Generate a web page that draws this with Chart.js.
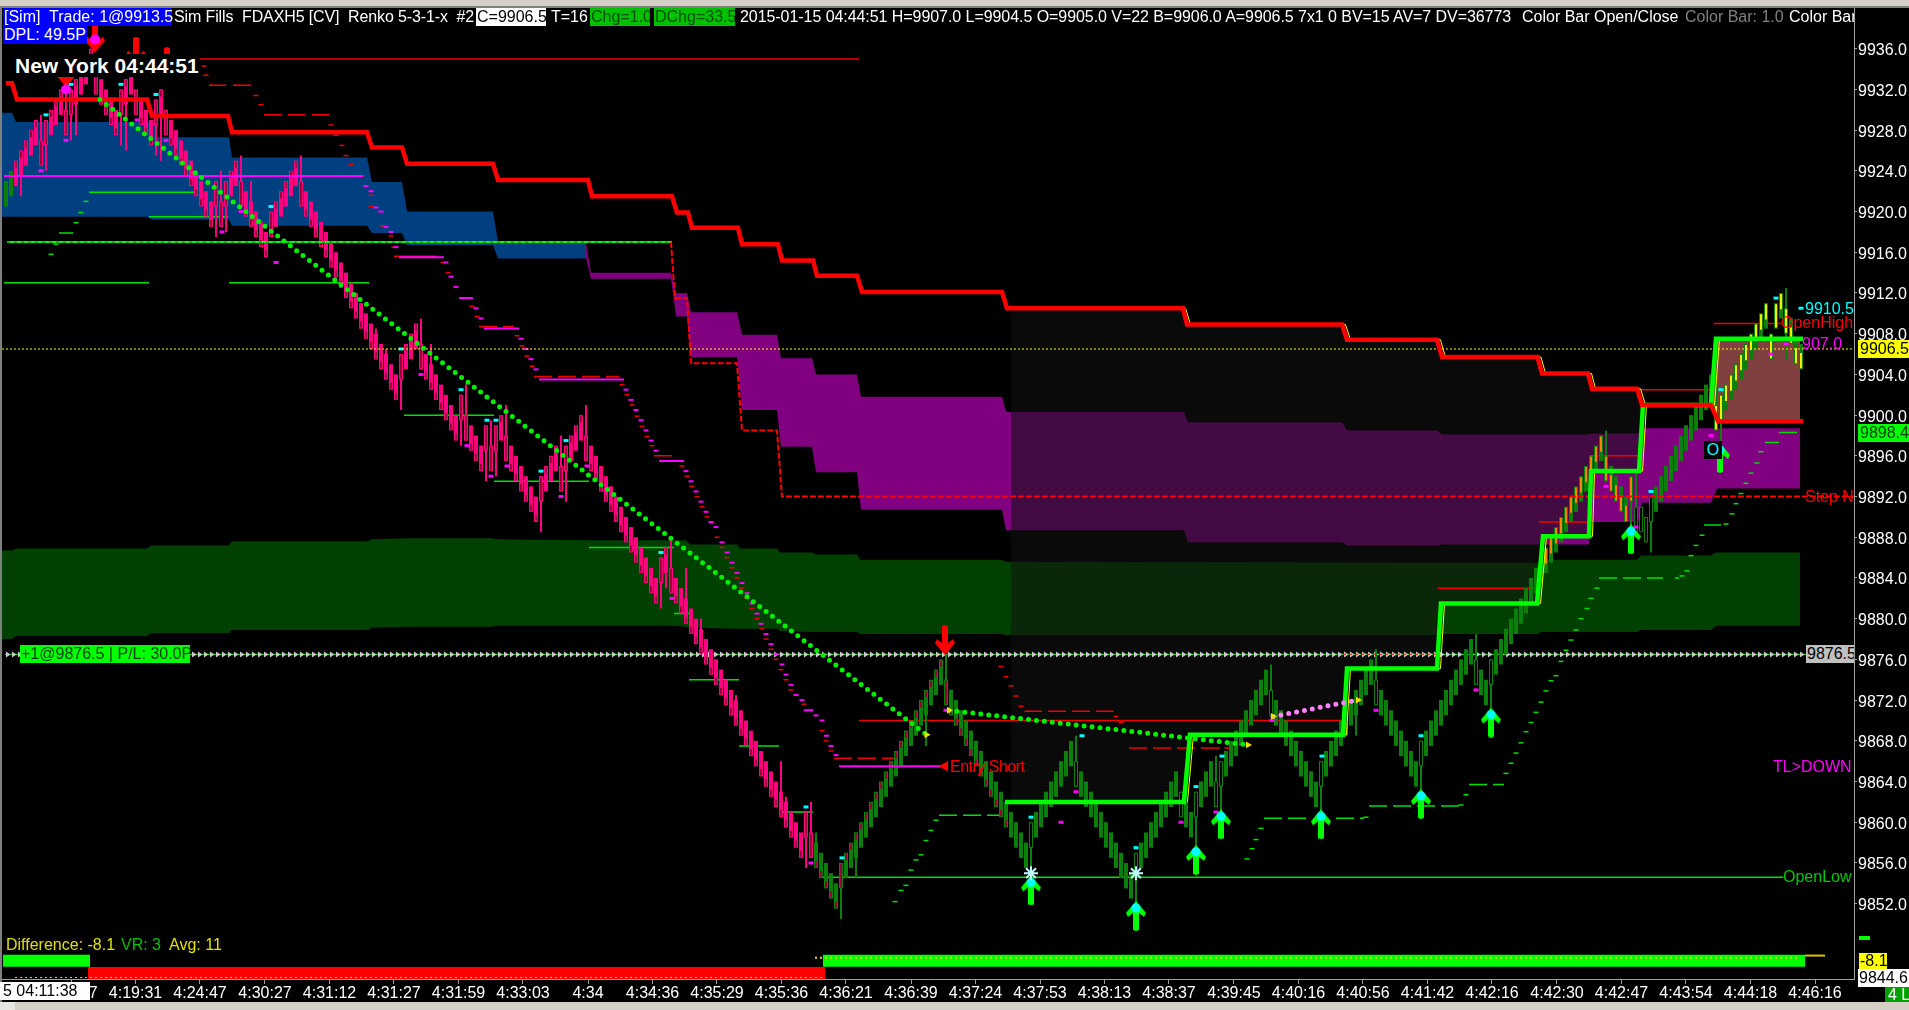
<!DOCTYPE html>
<html>
<head>
<meta charset="utf-8">
<title>FDAXH5 Renko</title>
<style>
  html, body { margin: 0; padding: 0; background: #000; overflow: hidden; }
  #wrap { position: relative; width: 1909px; height: 1010px; }
  canvas#chart { position: absolute; left: 0; top: 0; }
  .t { position: absolute; font: 16px "Liberation Sans", Arial, sans-serif; line-height: 18px; height: 18px; white-space: pre; color: #fff; }
  .b { position: absolute; }
</style>
</head>
<body>
<div id="wrap">
  <canvas id="chart" width="1909" height="1010"></canvas>

  <div class="b" style="left:0;top:0;width:1909px;height:6px;background:#d4d0c8"></div>
  <div class="b" style="left:0;top:6px;width:1909px;height:2px;background:#808080"></div>
  <div class="b" style="left:0;top:8px;width:2px;height:994px;background:#808080"></div>
  <div class="b" style="left:0;top:1002px;width:1909px;height:8px;background:#d4d0c8"></div>
  <div class="b" style="left:0;top:1002px;width:15px;height:8px;background:#e8e6e0"></div>

  <div class="t" style="left:3px;top:8px;width:169px;background:#0000ff;padding-left:1px;box-sizing:border-box">[Sim]  Trade: 1@9913.5</div>
  <div class="t" style="left:174px;top:8px;letter-spacing:-0.12px">Sim Fills  FDAXH5 [CV]  Renko 5-3-1-x  #2</div>
  <div class="t" style="left:476px;top:8px;width:70px;background:#fff;color:#000;padding-left:1px;box-sizing:border-box;overflow:hidden">C=9906.5</div>
  <div class="t" style="left:551px;top:8px">T=16</div>
  <div class="t" style="left:590px;top:8px;width:60px;background:#00c000;color:#005000;padding-left:1px;box-sizing:border-box;overflow:hidden">Chg=1.0</div>
  <div class="t" style="left:654px;top:8px;width:81px;background:#00c000;color:#005000;padding-left:1px;box-sizing:border-box;overflow:hidden">DChg=33.5</div>
  <div class="t" style="left:740px;top:8px;letter-spacing:-0.06px">2015-01-15 04:44:51 H=9907.0 L=9904.5 O=9905.0 V=22 B=9906.0 A=9906.5 7x1 0 BV=15 AV=7 DV=36773</div>
  <div class="t" style="left:1522px;top:8px">Color Bar Open/Close</div>
  <div class="t" style="left:1685px;top:8px;color:#808080">Color Bar: 1.0</div>
  <div class="t" style="left:1789px;top:8px;width:65px;overflow:hidden">Color Bar</div>
  <div class="t" style="left:3px;top:26px;width:84px;background:#0000ff;padding-left:1px;box-sizing:border-box">DPL: 49.5P</div>

  <div class="t" style="left:12px;top:54px;width:188px;height:23px;line-height:23px;background:#000;font-weight:bold;font-size:21px;padding-left:3px;box-sizing:border-box;overflow:hidden">New York 04:44:51</div>

  <div class="t" style="left:1805px;top:300px;color:#00ffff">9910.5</div>
  <div class="t" style="left:1781px;top:314px;width:70px;text-align:right;color:#ff0000">OpenHigh</div>
  <div class="t" style="left:1802px;top:335px;color:#ff00ff">907.0</div>
  <div class="t" style="left:1858px;top:340px;width:51px;background:#ffff00;color:#000;padding-left:2px;box-sizing:border-box;overflow:hidden">9906.5</div>
  <div class="t" style="left:1858px;top:424px;width:51px;background:#00ff00;color:#004000;padding-left:2px;box-sizing:border-box;overflow:hidden">9898.4</div>
  <div class="t" style="left:1805px;top:488px;color:#ff0000">Step N</div>
  <div class="t" style="left:20px;top:645px;width:170px;background:#00ff00;color:#004000;padding-left:1px;box-sizing:border-box">+1@9876.5 | P/L: 30.0P</div>
  <div class="t" style="left:1806px;top:645px;width:48px;background:#c0c0c0;color:#000;padding-left:1px;box-sizing:border-box;overflow:hidden">9876.5</div>
  <div class="t" style="left:950px;top:758px;color:#ff0000;letter-spacing:-0.5px">Entry Short</div>
  <div class="t" style="left:1773px;top:758px;color:#ff00ff">TL&gt;DOWN</div>
  <div class="t" style="left:1783px;top:868px;color:#00c800">OpenLow</div>
  <div class="t" style="left:1704px;top:441px;width:18px;background:#000;color:#00ffff;text-align:center">O</div>

  <div class="t" style="left:6px;top:936px;color:#e0e000">Difference: -8.1</div>
  <div class="t" style="left:121px;top:936px;color:#00c000">VR: 3</div>
  <div class="t" style="left:169px;top:936px;color:#e0e000">Avg: 11</div>

  <div class="b" style="left:1859px;top:936px;width:11px;height:4px;background:#00ff00"></div>
  <div class="t" style="left:1859px;top:953px;width:28px;height:16px;line-height:16px;background:#ffff00;color:#000;padding-left:1px;box-sizing:border-box">-8.1</div>
  <div class="t" style="left:1858px;top:969px;width:51px;background:#fff;color:#000;padding-left:1px;box-sizing:border-box;overflow:hidden">9844.6</div>
  <div class="t" style="left:0;top:982px;width:90px;background:#fff;color:#000;padding-left:3px;box-sizing:border-box;overflow:hidden">5 04:11:38</div>
  <div class="t" style="left:1885px;top:987px;width:24px;height:15px;line-height:15px;background:#00a000;color:#fff;padding-left:3px;box-sizing:border-box;overflow:hidden">4 L</div>
</div>

<script src="https://cdn.jsdelivr.net/npm/chart.js@4"></script>
<script>
'use strict';

/* ── AXES ── */
const xLabels = ['4:14:07','4:19:31','4:24:47','4:30:27','4:31:12','4:31:27','4:31:59','4:33:03','4:34','4:34:36','4:35:29','4:35:36','4:36:21','4:36:39','4:37:24','4:37:53','4:38:13','4:38:37','4:39:45','4:40:16','4:40:56','4:41:42','4:42:16','4:42:30','4:42:47','4:43:54','4:44:18','4:46:16'];
const xTickBars = [13,25.9,38.8,51.8,64.7,77.6,90.5,103.4,116.4,129.3,142.2,155.1,168,181,193.9,206.8,219.7,232.6,245.6,258.5,271.4,284.3,297.2,310.2,323.1,336,348.9,361.8];
const yTicksShown = [9852,9856,9860,9864,9868,9872,9876,9880,9884,9888,9892,9896,9900,9904,9908,9912,9916,9920,9924,9928,9932,9936];

/* ── RENKO CLOSES, one per bar ── */
const closes = [
  9923,9924,9925,9926,9927,9928,9929,9924.5,9929,9930,
  9931,9932,9927.5,9932,9933,9934,9935,9936,9931.5,9930.5,
  9929.5,9928.5,9927.5,9932,9933,9934,9929.5,9928.5,9927.5,9926.5,
  9931,9932,9927.5,9926.5,9925.5,9924.5,9923.5,9922.5,9921.5,9920.5,
  9919.5,9918.5,9923,9918.5,9923,9924,9925,9920.5,9919.5,9918.5,
  9917.5,9916.5,9915.5,9920,9921,9922,9923,9924,9925,9920.5,
  9919.5,9918.5,9917.5,9916.5,9915.5,9914.5,9913.5,9912.5,9911.5,9910.5,
  9909.5,9908.5,9907.5,9906.5,9905.5,9904.5,9903.5,9902.5,9901.5,9906,
  9907,9908,9909,9904.5,9903.5,9902.5,9901.5,9900.5,9899.5,9898.5,
  9897.5,9902,9897.5,9896.5,9895.5,9894.5,9899,9894.5,9899,9900,
  9895.5,9894.5,9893.5,9892.5,9891.5,9890.5,9889.5,9894,9895,9896,
  9897,9892.5,9897,9898,9899,9900,9895.5,9894.5,9893.5,9892.5,
  9891.5,9890.5,9889.5,9888.5,9887.5,9886.5,9885.5,9884.5,9883.5,9882.5,
  9881.5,9886,9887,9882.5,9881.5,9880.5,9879.5,9878.5,9877.5,9876.5,
  9875.5,9874.5,9873.5,9872.5,9871.5,9870.5,9869.5,9868.5,9867.5,9866.5,
  9865.5,9864.5,9863.5,9862.5,9861.5,9860.5,9859.5,9858.5,9857.5,9856.5,
  9861,9856.5,9855.5,9854.5,9853.5,9852.5,9851.5,9856,9857,9858,
  9859,9860,9861,9862,9863,9864,9865,9866,9867,9868,
  9869,9870,9871,9872,9873,9874,9875,9876,9871.5,9870.5,
  9869.5,9868.5,9867.5,9866.5,9865.5,9864.5,9863.5,9862.5,9861.5,9860.5,
  9859.5,9858.5,9857.5,9856.5,9855.5,9860,9861,9862,9863,9864,
  9865,9866,9867,9868,9863.5,9862.5,9861.5,9860.5,9859.5,9858.5,
  9857.5,9856.5,9855.5,9854.5,9853.5,9852.5,9857,9858,9859,9860,
  9861,9862,9863,9864,9865,9860.5,9859.5,9858.5,9863,9864,
  9865,9866,9861.5,9866,9867,9868,9869,9870,9871,9872,
  9873,9874,9875,9870.5,9869.5,9868.5,9867.5,9866.5,9865.5,9864.5,
  9863.5,9862.5,9861.5,9866,9867,9868,9869,9870,9871,9872,
  9873,9874,9875,9876,9871.5,9870.5,9869.5,9868.5,9867.5,9866.5,
  9865.5,9864.5,9863.5,9868,9869,9870,9871,9872,9873,9874,
  9875,9876,9877,9878,9873.5,9872.5,9871.5,9876,9877,9878,
  9879,9880,9881,9882,9883,9884,9885,9886,9887,9888,
  9889,9890,9891,9892,9893,9894,9895,9896,9897,9898,
  9893.5,9892.5,9891.5,9890.5,9889.5,9894,9888.5,9891,9887.5,9892,
  9893,9894,9895,9896,9897,9898,9899,9900,9901,9902,
  9903,9904,9898.5,9902,9903,9904,9905,9906,9907,9908,
  9909,9910,9911,9905.5,9911,9912,9908,9907,9905,9904.5
];

/* wicks: bar number and the price the wick reaches */
const wickBars = [3,7,8,12,13,14,23,24,30,31,36,42,43,44,47,49,59,74,76,79,83,85,91,92,96,97,98,100,107,111,112,116,131,132,133,136,139,146,155,156,160,161,162,167,170,184,188,205,214,226,238,242,243,253,263,270,274,283,294,297,320,325,326,329,342,343,356,356];
const wickEnds = [9921.5,9929.5,9924,9933,9927,9927.5,9926.5,9926,9925.5,9925,9925.5,9917.5,9924,9918,9925.5,9923,9925.5,9908.5,9906.5,9900.5,9909.5,9907,9897,9903,9893.5,9899.5,9894,9901,9888.5,9898,9891.5,9901,9881,9883,9888,9885,9880,9872.5,9866,9862.5,9855.5,9862,9859,9850.5,9854.5,9867.5,9876.5,9853,9868.5,9851.5,9857.5,9866.5,9859.5,9875.5,9860,9868.5,9877,9861.5,9878.5,9870,9898.5,9889,9894.5,9886.5,9904.5,9897,9912.5,9905.5];

/* ── STAIR LINES ── */
const redX = [0,1.2,2.2,28.2,29.2,44.4,45.2,72.2,73.2,79.2,80.2,97.4,98.4,116.4,117.2,133.2,134.2,136.4,137.2,146.4,147.2,154.4,155.2,161.4,162.2,170.2,171.2,199.2,200.2,235.4,236.2,267.2,268.2,286.2,287.2,306.3,307.2,316.4,317.2,326.2,327.2,341,342.4,359.4];
const redY = [9932.6,9932.6,9931,9931,9929.4,9929.4,9927.8,9927.8,9926.3,9926.3,9924.7,9924.7,9923.1,9923.1,9921.5,9921.5,9919.9,9919.9,9918.4,9918.4,9916.8,9916.8,9915.2,9915.2,9913.7,9913.7,9912.1,9912.1,9910.5,9910.5,9908.9,9908.9,9907.4,9907.4,9905.7,9905.7,9904.1,9904.1,9902.6,9902.6,9901,9901,9899.4,9899.4];
const greenX = [199.8,235.6,236.8,267.4,268.2,286.2,287,306.2,307.4,316.6,317,326.6,327.4,341,342,359.4];
const greenY = [9862,9862,9868.6,9868.6,9875.1,9875.1,9881.5,9881.5,9888.1,9888.1,9894.5,9894.5,9901,9901,9907.5,9907.5];

/* yellow thin lines trailing the stairs */
const yellowRedX = [235.9,236.9,267.9,268.9,286.9,287.9,307,307.9,317.1,317.9,326.9,327.9];
const yellowRedY = [9910.5,9908.9,9908.9,9907.4,9907.4,9905.7,9905.7,9904.1,9904.1,9902.6,9902.6,9901];
const yellowGreenX = [236.3,237.5,268.1,268.9,286.9,287.7,306.9,308.1,317.3,317.7,327.3,328.1,341.7,342.7];
const yellowGreenY = [9862,9868.6,9868.6,9875.1,9875.1,9881.5,9881.5,9888.1,9888.1,9894.5,9894.5,9901,9901,9907.5];

/* ── CLOUDS ── */
const blueX = [-0.8,1.2,2,28.2,29.2,29.8,30,44,44.6,45.2,72.2,73.2,79.2,80.2,97.4,98.4,116];
const blueTop = [9929.7,9929.7,9928.8,9928.8,9928.8,9928.8,9927.3,9927.3,9927.3,9925.3,9925.3,9922.9,9922.9,9920,9920,9917,9917];
const blueBottom = [9919.5,9919.5,9919.5,9919.5,9919.2,9919.2,9919.2,9919.2,9919.2,9918.6,9918.6,9917.9,9917.9,9916.7,9916.7,9915.4,9915.4];

const purpleX = [116,117,133,133.8,134,136.2,137,146.2,147.2,154.2,155,161.2,162,170.2,171,199.2,200,235.6,236.4,267.2,268.2,286.2,287.2,316.6,317,326.4,327.2,341,342.2,358.8];
const purpleTop = [9916.9,9914,9914,9912.5,9912,9912,9910.1,9910.1,9907.9,9907.9,9905.6,9905.6,9904,9904,9901.8,9901.8,9900.3,9900.3,9899.3,9899.3,9898.5,9898.5,9898.1,9898.1,9898.2,9898.2,9898.7,9898.7,9898.7,9898.7];
const purpleBottom = [9915.5,9913.4,9913.4,9910.5,9909.7,9909.7,9905.7,9905.7,9900.5,9900.5,9896.9,9896.9,9894.4,9894.4,9890.7,9890.7,9888.7,9888.7,9887.5,9887.5,9887.2,9887.2,9887.3,9887.3,9889.5,9889.5,9891.4,9891.4,9892.8,9892.8];

const greenCloudX = [-0.8,1.2,2,28.2,29,44.6,45.2,72.6,73,80,97,98,116,133,136,136.8,146.2,146.8,154.2,154.8,161.2,161.8,170.2,170.8,199.2,199.8,286.8,287.4,306.4,307,326.2,327,341,342,358.8];
const greenCloudTop = [9886.7,9886.7,9886.9,9886.9,9887.2,9887.2,9887.6,9887.6,9887.8,9887.9,9887.9,9887.8,9887.7,9887.7,9887.7,9887.3,9887.3,9886.9,9886.9,9886.5,9886.5,9886.3,9886.3,9885.8,9885.8,9885.6,9885.5,9885.5,9885.5,9885.8,9885.8,9886.2,9886.2,9886.5,9886.5];
const greenCloudBottom = [9878,9878,9878.3,9878.3,9878.6,9878.6,9878.9,9878.9,9879.1,9879.2,9879.2,9879.3,9879.3,9879.3,9879.2,9879.1,9879,9879,9879,9878.8,9878.7,9878.7,9878.7,9878.5,9878.5,9878.4,9878.4,9878.5,9878.5,9878.7,9878.7,9878.9,9878.9,9879.3,9879.3];

/* shaded band between the red and green stairs */
const dimX = [201,235.5,236.5,267.2,268.2,286.2,287.2,306.3,307.3,316.5,317.1,326.4,327.3];
const dimTop = [9910.5,9910.5,9908.9,9908.9,9907.4,9907.4,9905.7,9905.7,9904.1,9904.1,9902.6,9902.6,9901];
const dimBottom = [9862,9862,9868.6,9868.6,9875.1,9875.1,9881.5,9881.5,9888.1,9888.1,9894.5,9894.5,9901];
const brownX = [341,342,342.4,358.8];
const brownTop = [9901,9907.5,9907.5,9907.5];
const brownBottom = [9901,9900,9899.4,9899.4];

/* ── LEVEL LINES ── */
const stepNX = [133,133.8,136.2,137,146.2,147.2,154.2,155.2,369.6];
const stepNY = [9917,9911.5,9911.5,9905.1,9905.1,9898.5,9898.5,9892,9892];

const redLineX1 = [38.8,170.6,286.4,306.6,316.6,326.6,341.6];
const redLineX2 = [170.6,267.4,306.6,316.6,326.6,341.6,355];
const redLineY = [9935,9870,9883,9889.5,9896,9902.5,9909];

const redDashX1 = [40.6,45.4,51.6,56.4,61.2,77.6,94.6,99.4,105.6,110.4,115.2,120,129.6,134.4,165.6,170.3,175.2,203.7,208.4,213.2,218,224.6,229.4,234.2,239,243.7];
const redDashX2 = [44,49,55.2,59.8,64.6,86.2,98.2,101.6,109.2,114,118.8,122.6,133.2,134.6,169.2,174,177.6,207.2,212,216.8,221.5,228.2,233,237.8,242.8,244.6];
const redDashY = [9932.4,9932.4,9929.5,9929.5,9929.5,9915.6,9908.7,9908.7,9903.8,9903.8,9903.8,9903.8,9896,9896,9866.3,9866.3,9866.3,9870.9,9870.9,9870.9,9870.9,9867.3,9867.3,9867.3,9867.3,9867.3];

const redTickX = [32,39.6,40,50,51,65,66,67.2,68,69,71.2,73,73,75.2,77,77.6,87.4,88.4,93.2,94.2,102.2,103.2,104.2,105.2,123.2,124.2,125.2,126.2,127.2,128.2,129.2,135.2,136.2,137.2,138.2,139.2,140.2,141.2,142.2,143.2,144.2,145.2,146.2,147.2,148.2,149.2,150.2,151.2,152,153,154,155,156,157,159.6,161,163.2,164,165,199,200,201,202,203,222,223];
const redTickY = [9935.7,9934.3,9933.4,9931.4,9930.5,9928.5,9927.5,9926.5,9925.5,9924.6,9923.5,9921.6,9920.5,9918.6,9917.6,9916.5,9915,9914,9910.7,9909.7,9907.8,9906.8,9905.8,9904.8,9903,9902,9901,9899.9,9898.9,9897.9,9897,9895,9894,9893,9892,9891,9890,9889.4,9888,9887,9886,9885,9884,9883,9882,9881,9880,9879,9878,9877,9876,9875,9874,9873,9871.6,9871,9869,9868,9867,9875.3,9874.3,9873.4,9872.4,9871.4,9870.4,9869.8];

const magentaLineX1 = [-0.4,78.6,90.6,95.6,106.6,130.6,159.6,166.6];
const magentaLineX2 = [71.4,87.6,93.4,102.6,123.6,135.6,161.4,187.2];
const magentaLineY = [9923.5,9915.5,9911.5,9908.5,9903.5,9895.5,9871,9865.5];

const magentaTickX = [72,73,74,75,76,77,78,88,89,90,94,95,103,104,105,106,124,125,126,127,128,129,130,136,137,138,139,140,141,142,143.2,144.2,145.2,146.2,147.2,148.2,149.2,150.2,151,152,153,154,155.2,156,157,158,159.2,162,163.2,164.1,165,166];
const magentaTickY = [9922.5,9922,9920.4,9920,9918.5,9918,9916.5,9915,9913.6,9912.6,9910.5,9909.5,9907.5,9906.5,9905.5,9904.5,9902.5,9901.5,9900.5,9899.5,9898.5,9897.5,9896.5,9894.5,9893.5,9892.5,9891.5,9890.5,9889.5,9889,9887.5,9886.5,9885.5,9884.5,9883.5,9882.5,9881.5,9880.5,9879.5,9878.5,9877.5,9876.5,9875.5,9874.5,9873.5,9872.5,9872,9870.5,9870,9868.5,9867.5,9866.6];

const magentaMarkX = [7,12,26.2,32,47,43.2,54,83,92.2,97,100.2,111,116.2,133.2,161,188,214,211,235,242,253.2,274,294,320,326,341,353,356];
const magentaMarkY = [9924,9927,9929,9927,9920,9918,9915,9904,9897,9894,9895,9892,9895,9882,9856,9871,9863,9860,9860,9861,9870,9871,9873,9893,9889,9898,9906,9907];

const cyanMarkX = [8,13,23,30,53,79,91,96.2,98,107,112,131,160,167.2,205,215.2,226,238,243.2,263.2,283,329,343,354,359];
const cyanMarkY = [9929.5,9932.5,9932.5,9931.5,9920.5,9906.5,9902.5,9899.5,9899.5,9894.5,9897.5,9886.5,9861.5,9856.5,9860.5,9868.5,9857.5,9863.5,9866.5,9866.5,9868.5,9892.5,9902.5,9911.5,9910.5];

const greenTickX = [9,10,14,15,16,177.8,179,180,181,182,183,184,185,186,248.2,249.2,250,251,272,291,292,300,301,302,303,304,305,306,307,308,309,310,311,312,313,314,315,316.2,317,318.2,335.2,336.2,337,338,339.2,344,345.2,346,347,348,349,350.2,351];
const greenTickY = [9915.8,9916.8,9918.9,9919.9,9921,9852.2,9853.3,9853.8,9855.3,9856.3,9856.8,9858.2,9859.2,9860.2,9856.4,9857.4,9858.3,9859.4,9860.5,9861.7,9862.7,9864.8,9865.8,9866.8,9867.8,9868.9,9869.8,9870.8,9871.8,9872.9,9873.9,9874.4,9875.8,9876.9,9877.9,9878.9,9880,9881,9882,9883,9884.2,9884.7,9886.2,9887.2,9888.2,9889.3,9890.3,9891.3,9892.3,9893.3,9894.3,9895.3,9896.4];

const greenLineX1 = [10.6,16.6,28.6,-0.4,44.6,79.6,97.6,116.6,133.6,136.6,146.6,154.6,186.6,191.4,196.2,251.6,256.4,266,270.8,272.6,277.4,282.2,287,292.6,297.4,318.6,323.4,328.2,333.8,339.6,351.8,354.6,162.6];
const greenLineX2 = [13.4,37.6,44.4,28.6,72.6,97.6,116.6,133.6,136.6,146.6,154.6,161.4,190.2,195,198.6,255.2,260,269.6,271.6,276.2,281,285.8,290.6,296.2,299.6,322.2,327,331.4,334.6,343,354.6,358.2,355.4];
const greenLineY = [9917.9,9921.9,9919.5,9913,9913,9900,9893.5,9887,9880.5,9874,9867.5,9861,9860.7,9860.7,9860.7,9860.4,9860.4,9860.4,9860.4,9861.6,9861.6,9861.6,9861.6,9863.7,9863.7,9884,9884,9884,9884,9889.2,9897.3,9898.3,9854.6];

/* dotted trend lines */
const dotTrendX = [18.8,184.1];
const dotTrendY = [9931,9868.6];
const dotTrend2X = [188.6,248.4];
const dotTrend2Y = [9871,9867.6];
const pinkTrendX = [253.4,270.4];
const pinkTrendY = [9870.4,9872];
const trendEndX = [184.1,188.6,248.4,253.4,270.4];
const trendEndY = [9868.6,9871,9867.6,9870.4,9872];

/* ── SIGNAL ARROWS ── */
const upArrowX = [205,226,238,243,263,283,297,325,342.8];
const upArrowY = [9853.3,9850.8,9856.3,9859.8,9859.8,9861.8,9869.8,9887.8,9895.8];
const downArrowX = [187.8,17.8,12,26,32.2];
const downArrowY = [9877.9,9937.1,9933.7,9935.7,9934.7];
const starX = [205,226];
const starY = [9855,9855];
const signalDotX = [17.8,12];
const signalDotY = [9936.9,9932];

/* ── VR SUBGRAPH ROW ── */
const subGreenX1 = [-0.6,163.4];
const subGreenX2 = [16.8,359.8];
const subGreenY = [9846.4,9846.4];
const subRedX = [16.4,163.8];
const subRedY = [9845.2,9845.2];

/* ── BUILD ── */
const datasets = [];
function add(o) {
  o.order = 3000 - datasets.length;
  datasets.push(o);
  return datasets.length - 1;
}
function pts(xs, ys) { return xs.map((x, i) => ({ x, y: ys[i] })); }
function segs(x1, x2, ys) {
  return x1.flatMap((x, i) => [{ x, y: ys[i] }, { x: x2[i], y: ys[i] }, { x: x2[i], y: NaN }]);
}
function line(data, color, width, extra) {
  return add(Object.assign({ type: 'line', data, borderColor: color, borderWidth: width, pointRadius: 0, fill: false, tension: 0 }, extra || {}));
}
function band(xs, top, bottom, color) {
  const low = line(pts(xs, bottom), 'transparent', 0);
  line(pts(xs, top), 'transparent', 0, { fill: low, backgroundColor: color });
}
function marks(xs, ys, color, radius, width) {
  line(pts(xs, ys), color, width, { showLine: false, pointStyle: 'line', pointRadius: radius, pointBorderColor: color, pointBorderWidth: width });
}
function arrowImage(color, head) {
  const c = document.createElement('canvas');
  c.width = 22; c.height = 30;
  const g = c.getContext('2d');
  if (color === '#ff0000') { g.translate(0, 30); g.scale(1, -1); }
  g.fillStyle = color;
  g.beginPath();
  g.moveTo(11, 0); g.lineTo(21, 12); g.lineTo(19, 16); g.lineTo(14, 12);
  g.lineTo(14, 29); g.lineTo(11, 30); g.lineTo(8, 29); g.lineTo(8, 12);
  g.lineTo(3, 16); g.lineTo(1, 12);
  g.closePath(); g.fill();
  if (head) {
    g.fillStyle = head;
    g.beginPath(); g.arc(11, 7, 4.5, 0, Math.PI * 2); g.fill();
  }
  return c;
}
function entryPattern() {
  const c = document.createElement('canvas');
  c.width = 6; c.height = 7;
  const g = c.getContext('2d');
  g.fillStyle = '#c8c8c8';
  g.beginPath(); g.moveTo(0, 0.5); g.lineTo(4.5, 3.5); g.lineTo(0, 6.5); g.closePath(); g.fill();
  return g.createPattern(c, 'repeat');
}

/* clouds */
band(greenCloudX, greenCloudTop, greenCloudBottom, '#004000');
band(blueX, blueTop, blueBottom, '#004080');
band(purpleX, purpleTop, purpleBottom, '#800080');
band(dimX, dimTop, dimBottom, 'rgba(18,18,18,0.55)');
band(brownX, brownTop, brownBottom, '#804040');

/* thin levels and ticks */
line(segs(redLineX1, redLineX2, redLineY), '#f00000', 1.5);
line(segs(redDashX1, redDashX2, redDashY), '#f00000', 1.5);
marks(redTickX, redTickY, '#f00000', 2.5, 1.5);
line(segs(greenLineX1, greenLineX2, greenLineY), '#00e000', 1.5);
marks(greenTickX, greenTickY, '#00e000', 2.5, 1.5);
line(pts([-0.2, 360], [9876.5, 9876.5]), '#00ff00', 1);
line(pts([-0.2, 360], [9876.5, 9876.5]), entryPattern(), 7);
line(pts([267.4, 286.4], [9876.5, 9876.5]), '#ff0000', 1, { borderDash: [3, 3] });

/* renko bars */
const BAR_PINK = '#ff0080', BAR_GREEN = '#0a800a', INNER_RED = '#99003a', INNER_ORANGE = '#ff8000', INNER_YELLOW = '#f0f000';
const dirs = closes.map((c, i) => (i === 0 ? 1 : Math.sign(c - closes[i - 1])));
const bodyColor = i => (i < 2 || i > 161 ? BAR_GREEN : BAR_PINK);
const bodies = closes.map((c, i) => ({ x: i, y: dirs[i] > 0 ? [c - 2.5, c] : [c, c + 2.5] }));
const wicks = wickBars.map((b, i) => ({ x: b, y: [closes[b], wickEnds[i]] }));
const innerData = [], innerColors = [];
closes.forEach((c, i) => {
  if (i < 2) return;
  const hollow = i > 0 && dirs[i] !== dirs[i - 1];
  let col = null, len = 0.6;
  if (i <= 200) col = INNER_RED;
  if (i >= 308 && i <= 325) { col = INNER_ORANGE; len = 1.5; }
  if (i >= 342) { col = INNER_YELLOW; len = 1.5; }
  if (hollow) { len = 2.3; col = col || '#000000'; }
  if (!col) return;
  innerData.push({ x: i, y: dirs[i] > 0 ? [c - len - 0.1, c - 0.1] : [c + 0.1, c + len + 0.1] });
  innerColors.push(col);
});
add({ type: 'bar', data: wicks, grouped: false, barThickness: 2, inflateAmount: 0, borderWidth: 0, backgroundColor: wickBars.map(bodyColor) });
add({ type: 'bar', data: bodies, grouped: false, barThickness: 4, inflateAmount: 0, borderWidth: 0, backgroundColor: closes.map((c, i) => bodyColor(i)) });
add({ type: 'bar', data: innerData, grouped: false, barThickness: 2, inflateAmount: 0, borderWidth: 0, backgroundColor: innerColors });

/* magenta levels, small marks */
line(segs(magentaLineX1, magentaLineX2, magentaLineY), '#ff00ff', 2);
marks(magentaTickX, magentaTickY, '#ff00ff', 2.5, 2);
marks(magentaMarkX, magentaMarkY, '#ff00ff', 2.5, 3);
marks(cyanMarkX, cyanMarkY, '#00ffff', 2.5, 3);

/* entry-day lines */
line(pts([0.2, 133.2], [9917, 9917]), '#00ff00', 2);
line(pts([0.2, 133.2], [9917, 9917]), '#0a800a', 1, { borderDash: [3, 4] });
line(pts(stepNX, stepNY), '#ff0000', 2, { borderDash: [6, 2] });
line(pts([-0.8, 369.6], [9906.5, 9906.5]), '#ffff00', 1, { borderDash: [2, 2] });

/* stairs */
line(pts(yellowRedX, yellowRedY), '#ffff00', 1);
line(pts(yellowGreenX, yellowGreenY), '#ffff00', 1);
line(pts(greenX, greenY), '#00ff00', 4.5);
line(pts(redX, redY), '#ff0000', 4.5);

/* dotted trend lines */
const dotStyle = { borderCapStyle: 'round', borderDash: [0, 8] };
line(pts(dotTrendX, dotTrendY), '#00f000', 5, dotStyle);
line(pts(dotTrend2X, dotTrend2Y), '#00f000', 5, dotStyle);
line(pts(pinkTrendX, pinkTrendY), '#ff80ff', 5, dotStyle);
line(pts(trendEndX, trendEndY), '#f0e000', 1, { showLine: false, pointStyle: 'triangle', pointRotation: 90, pointRadius: 4, pointBackgroundColor: '#f0e000', pointBorderWidth: 0 });

/* arrows */
line(pts(upArrowX, upArrowY), '#00ff00', 0, { showLine: false, pointRadius: 11, pointStyle: arrowImage('#00ff00', '#00ffff') });
line(pts(downArrowX, downArrowY), '#ff0000', 0, { showLine: false, pointRadius: 11, pointStyle: arrowImage('#ff0000', null) });
line(pts(starX, starY), '#c0ffff', 2, { showLine: false, pointStyle: 'star', pointRadius: 7, pointBorderColor: '#c0ffff', pointBorderWidth: 2 });
line(pts(signalDotX, signalDotY), '#ff00ff', 0, { showLine: false, pointStyle: 'circle', pointRadius: 5, pointBackgroundColor: '#ff00ff', pointBorderWidth: 0 });
line(pts([187.8], [9865.5]), '#ff0000', 0, { showLine: false, pointStyle: 'triangle', pointRotation: -90, pointRadius: 6, pointBackgroundColor: '#ff0000', pointBorderWidth: 0 });

/* subgraph row */
line(segs(subGreenX1, subGreenX2, subGreenY), '#00ff00', 12);
line(pts(subRedX, subRedY), '#ff0000', 12);
line(pts([1.8, 163.8], [9844.75, 9844.75]), '#e0e000', 1, { borderDash: [2, 3] });
line(pts([161.8, 358.8], [9846.7, 9846.7]), '#e0e000', 2, { borderDash: [2, 3] });
line(pts([359.8, 363.8], [9846.9, 9846.9]), '#e0c000', 2);

/* the axes must not grow margins for their outermost labels */
function noMargins(s) { s.paddingLeft = s.paddingRight = s.paddingTop = s.paddingBottom = 0; }

/* ── CHART ── */
new Chart(document.getElementById('chart'), {
  type: 'bar',
  data: { datasets },
  options: {
    responsive: false,
    animation: false,
    events: [],
    layout: { autoPadding: false, padding: { left: 2, top: 8, right: 0, bottom: 0 } },
    plugins: { legend: { display: false }, tooltip: { enabled: false } },
    scales: {
      x: {
        type: 'linear',
        offset: false,
        min: -0.8,
        max: 369.6,
        afterBuildTicks: s => { s.ticks = xTickBars.map(v => ({ value: v })); },
        afterFit: s => { s.height = 31; noMargins(s); },
        border: { color: '#a0a0a0', width: 1 },
        grid: { drawOnChartArea: false, color: '#a0a0a0', tickLength: 5, offset: false },
        ticks: {
          color: '#ffffff', maxRotation: 0, minRotation: 0, autoSkip: false, padding: 0,
          font: { family: '"Liberation Sans", Arial', size: 16 },
          callback: (v, i) => xLabels[i]
        }
      },
      y: {
        position: 'right',
        min: 9844.6,
        max: 9940,
        afterBuildTicks: s => { s.ticks = yTicksShown.map(v => ({ value: v })); },
        afterFit: s => { s.width = 55; noMargins(s); },
        border: { color: '#a0a0a0', width: 1 },
        grid: { drawOnChartArea: false, color: '#a0a0a0', tickLength: 3 },
        ticks: {
          color: '#ffffff', padding: 1,
          /* the blank first line moves each label 2px below its tick, as in the reference */
          font: { family: '"Liberation Sans", Arial', size: 16, lineHeight: '4px' },
          callback: v => ['', Number(v).toFixed(1)]
        }
      }
    }
  }
});
</script>
</body>
</html>
